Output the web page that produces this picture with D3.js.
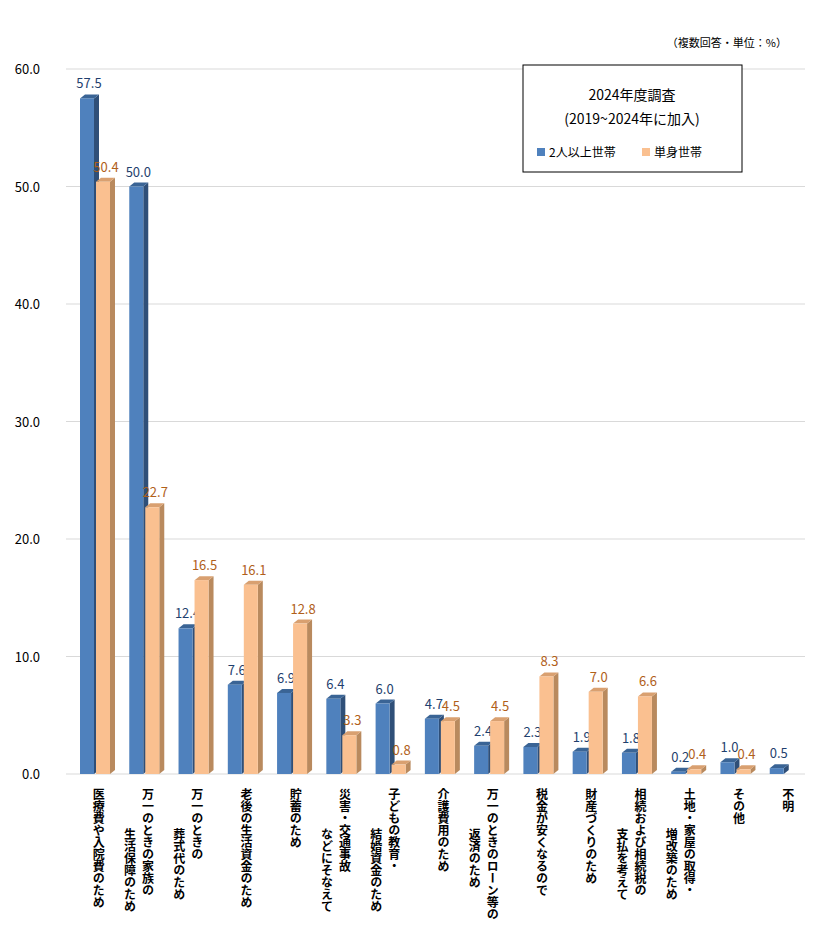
<!DOCTYPE html>
<html>
<head>
<meta charset="utf-8">
<script src="https://d3js.org/d3.v7.min.js"></script>
<style>
  body { margin: 0; background: #fff; font-family: "Noto Sans CJK JP", sans-serif; }
  text { font-family: "Noto Sans CJK JP", sans-serif; }
</style>
</head>
<body>
<div id="chart"></div>
<script>
const categories = [
  ["医療費や入院費のため"], ["万一のときの家族の", "生活保障のため"], ["万一のときの", "葬式代のため"],
  ["老後の生活資金のため"], ["貯蓄のため"], ["災害・交通事故", "などにそなえて"],
  ["子どもの教育・", "結婚資金のため"], ["介護費用のため"], ["万一のときのローン等の", "返済のため"],
  ["税金が安くなるので"], ["財産づくりのため"], ["相続および相続税の", "支払を考えて"],
  ["土地・家屋の取得・", "増改築のため"], ["その他"], ["不明"]
];
const multi = [57.5, 50.0, 12.4, 7.6, 6.9, 6.4, 6.0, 4.7, 2.4, 2.3, 1.9, 1.8, 0.2, 1.0, 0.5];
const single = [50.4, 22.7, 16.5, 16.1, 12.8, 3.3, 0.8, 4.5, 4.5, 8.3, 7.0, 6.6, 0.4, 0.4, null];
const yTicks = [0, 10, 20, 30, 40, 50, 60];

const W = 817, H = 942;
const plotLeft = 66, plotRight = 805, plotTop = 69, plotBottom = 774;
const svg = d3.select("#chart").append("svg").attr("width", W).attr("height", H);

const x = d3.scaleBand().domain(d3.range(categories.length)).range([plotLeft, plotRight]);
const y = d3.scaleLinear().domain([0, 60]).range([plotBottom, plotTop]);

// grid
svg.selectAll(".grid").data(yTicks).enter().append("line")
  .attr("x1", plotLeft).attr("x2", plotRight)
  .attr("y1", d => y(d)).attr("y2", d => y(d))
  .attr("stroke", "#d9d9d9");
svg.selectAll(".yl").data(yTicks).enter().append("text")
  .attr("x", 40).attr("y", d => y(d) + 5).attr("text-anchor", "end")
  .attr("font-size", 13).attr("fill", "#000").text(d => d.toFixed(1));

svg.append("text").attr("x", 787).attr("y", 47).attr("text-anchor", "end")
  .attr("font-size", 11).text("（複数回答・単位：%）");

const bw = 14, dx = 5, dy = -4;
function bar3d(cx, v, front, side, topc) {
  const x0 = cx, x1 = cx + bw, yv = y(v), y0 = y(0);
  svg.append("path").attr("d", `M${x1},${yv}L${x1+dx},${yv+dy}L${x1+dx},${y0+dy}L${x1},${y0}Z`).attr("fill", side);
  svg.append("path").attr("d", `M${x0},${yv}L${x0+dx},${yv+dy}L${x1+dx},${yv+dy}L${x1},${yv}Z`).attr("fill", topc);
  svg.append("rect").attr("x", x0).attr("y", yv).attr("width", bw).attr("height", y0 - yv).attr("fill", front);
}

categories.forEach((c, i) => {
  const base = x(i) + 14;
  bar3d(base, multi[i], "#4f81bd", "#2f4f78", "#3a6495");
  svg.append("text").attr("x", base + bw / 2 + 2).attr("y", y(multi[i]) - 10)
    .attr("text-anchor", "middle").attr("font-size", 13).attr("fill", "#1f3f6e").text(multi[i].toFixed(1));
  if (single[i] != null) {
    bar3d(base + bw + 2, single[i], "#fac090", "#b98a5e", "#d9a070");
    svg.append("text").attr("x", base + bw * 1.5 + 5).attr("y", y(single[i]) - 10)
      .attr("text-anchor", "middle").attr("font-size", 13).attr("fill", "#b0601a").text(single[i].toFixed(1));
  }
  // vertical labels
  const lx = x(i) + x.bandwidth() / 2 + 8;
  c.forEach((line, j) => {
    svg.append("text").attr("x", lx - j * 18).attr("y", 788 + j * 40)
      .attr("writing-mode", "vertical-rl").attr("font-size", 12).attr("font-weight", "bold")
      .attr("fill", "#000").text(line);
  });
});

// legend
const lg = svg.append("g");
lg.append("rect").attr("x", 523).attr("y", 65).attr("width", 219).attr("height", 107)
  .attr("fill", "#fff").attr("stroke", "#000");
lg.append("text").attr("x", 632).attr("y", 100).attr("text-anchor", "middle").attr("font-size", 14).text("2024年度調査");
lg.append("text").attr("x", 632).attr("y", 124).attr("text-anchor", "middle").attr("font-size", 14).text("(2019~2024年に加入)");
lg.append("rect").attr("x", 537).attr("y", 148).attr("width", 8).attr("height", 8).attr("fill", "#4f81bd");
lg.append("text").attr("x", 549).attr("y", 157).attr("font-size", 12).text("2人以上世帯");
lg.append("rect").attr("x", 642).attr("y", 148).attr("width", 8).attr("height", 8).attr("fill", "#fac090");
lg.append("text").attr("x", 654).attr("y", 157).attr("font-size", 12).text("単身世帯");
</script>
</body>
</html>
